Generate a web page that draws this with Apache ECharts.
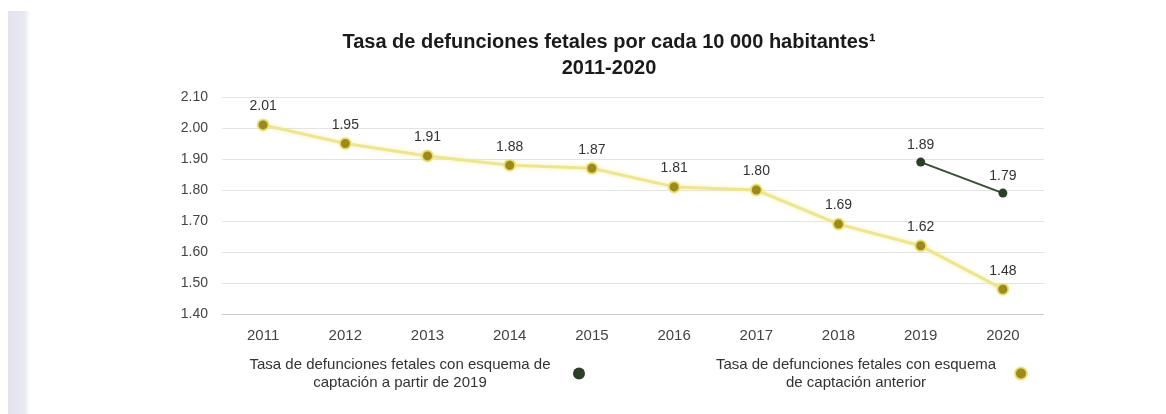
<!DOCTYPE html>
<html>
<head>
<meta charset="utf-8">
<script src="https://cdn.jsdelivr.net/npm/echarts@6/dist/echarts.min.js"></script>
<style>
  html, body { margin: 0; padding: 0; background: #ffffff; }
  #chart { width: 1166px; height: 414px; }
</style>
</head>
<body>
<div id="chart"></div>
<script>
// Años del periodo
const years = ['2011', '2012', '2013', '2014', '2015', '2016', '2017', '2018', '2019', '2020'];

// Tasa con esquema de captación anterior
const rateAnterior = [2.01, 1.95, 1.91, 1.88, 1.87, 1.81, 1.80, 1.69, 1.62, 1.48];

// Tasa con esquema de captación a partir de 2019
const rateDesde2019 = [null, null, null, null, null, null, null, null, 1.89, 1.79];

// Nombres de las series y su texto en dos líneas para la leyenda
const nameDesde2019 = 'Tasa de defunciones fetales con esquema de captación a partir de 2019';
const nameAnterior = 'Tasa de defunciones fetales con esquema de captación anterior';
const legendLinesDesde2019 = ['Tasa de defunciones fetales con esquema de', 'captación a partir de 2019'];
const legendLinesAnterior = ['Tasa de defunciones fetales con esquema', 'de captación anterior'];

const titleText = 'Tasa de defunciones fetales por cada 10 000 habitantes¹';
const subtitleText = '2011-2020';

const FONT = '"Liberation Sans", Arial, sans-serif';

const chart = echarts.init(document.getElementById('chart'));

function legendText(lines) {
  return lines.map(l => '{t|' + l + '}').join('\n');
}

chart.setOption({
  animation: false,
  backgroundColor: '#ffffff',
  textStyle: { fontFamily: FONT },
  graphic: [{
    type: 'rect',
    shape: { x: 8, y: 11, width: 22, height: 403 },
    style: {
      fill: new echarts.graphic.LinearGradient(0, 0, 1, 0, [
        { offset: 0, color: '#e3e3ee' },
        { offset: 0.75, color: '#e8e8f1' },
        { offset: 1, color: '#ffffff' }
      ])
    },
    silent: true
  }],
  title: {
    text: titleText + '\n' + subtitleText,
    left: 604,
    top: 24,
    textAlign: 'center',
    textStyle: {
      fontFamily: FONT,
      fontSize: 20,
      fontWeight: 'bold',
      color: '#1a1a1a',
      lineHeight: 26
    }
  },
  legend: [{
    data: [nameDesde2019],
    left: 227,
    top: 352,
    align: 'right',
    icon: 'circle',
    itemWidth: 12,
    itemHeight: 12,
    formatter: () => legendText(legendLinesDesde2019),
    textStyle: {
      fontFamily: FONT,
      color: '#333',
      rich: { t: { width: 336, align: 'center', fontSize: 15, lineHeight: 18, color: '#333', fontFamily: FONT } }
    }
  }, {
    data: [nameAnterior],
    left: 697,
    top: 352,
    align: 'right',
    icon: 'circle',
    itemWidth: 12,
    itemHeight: 12,
    formatter: () => legendText(legendLinesAnterior),
    textStyle: {
      fontFamily: FONT,
      color: '#333',
      rich: { t: { width: 308, align: 'center', fontSize: 15, lineHeight: 18, color: '#333', fontFamily: FONT } }
    }
  }],
  grid: { left: 222, right: 122, top: 97, bottom: 100 },
  xAxis: {
    type: 'category',
    data: years,
    boundaryGap: true,
    axisLine: { show: true, lineStyle: { color: '#c8c8c8', type: 'dotted', width: 1 } },
    axisTick: { show: false },
    axisLabel: { fontFamily: FONT, fontSize: 15, color: '#444', margin: 14 }
  },
  yAxis: {
    type: 'value',
    min: 1.4,
    max: 2.1,
    interval: 0.1,
    axisLine: { show: false },
    axisTick: { show: false },
    splitLine: { lineStyle: { color: '#e4e4e4', width: 1 } },
    axisLabel: {
      fontFamily: FONT, fontSize: 14, color: '#444', margin: 14,
      formatter: v => v.toFixed(2)
    }
  },
  series: [{
    name: nameAnterior,
    type: 'line',
    data: rateAnterior,
    symbol: 'circle',
    symbolSize: 11,
    itemStyle: { color: '#9c8a1c', borderColor: 'rgba(236,226,120,0.9)', borderWidth: 2 },
    lineStyle: { color: '#eee590', width: 3, shadowBlur: 4, shadowColor: 'rgba(240,230,120,0.6)' },
    label: {
      show: true, position: 'top', distance: 5,
      fontFamily: FONT, fontSize: 14, color: '#333',
      formatter: p => p.value.toFixed(2)
    },
    z: 2
  }, {
    name: nameDesde2019,
    type: 'line',
    data: rateDesde2019,
    connectNulls: false,
    symbol: 'circle',
    symbolSize: 9,
    itemStyle: { color: '#2b3f28' },
    lineStyle: { color: '#33502f', width: 2 },
    label: {
      show: true, position: 'top', distance: 5,
      fontFamily: FONT, fontSize: 14, color: '#333',
      formatter: p => p.value.toFixed(2)
    },
    z: 3
  }]
});
</script>
</body>
</html>
